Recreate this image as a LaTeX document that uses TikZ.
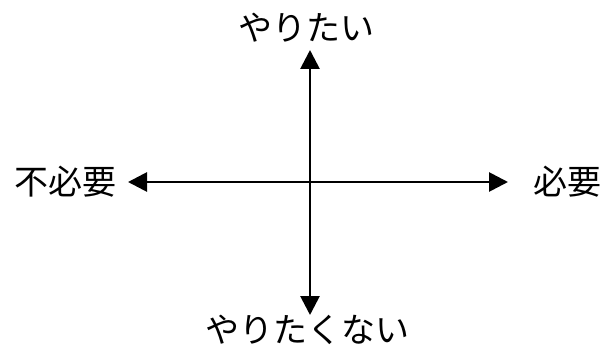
\documentclass[tikz,border=0pt]{standalone}
\usepackage{fontspec}
\newfontfamily\jpfont{Noto Sans CJK JP}
\usetikzlibrary{arrows.meta}
\tikzset{
  axis/.style={line width=2.8pt, {Triangle[length=19pt,width=19pt]}-{Triangle[length=19pt,width=19pt]}},
  lbl/.style={font=\jpfont\fontsize{34pt}{36pt}\selectfont, inner sep=0pt, anchor=center}
}
\begin{document}
\begin{tikzpicture}[x=1pt,y=1pt]
\useasboundingbox (0,0) rectangle (611,349);
\coordinate (top) at (310,299);
\coordinate (bot) at (310,34);
\coordinate (lft) at (128,167);
\coordinate (rgt) at (508,167);
\node[lbl] (want) at (306,321) {やりたい};
\node[lbl] (notwant) at (307,19) {やりたくない};
\node[lbl] (unneeded) at (66,167) {不必要};
\node[lbl] (needed) at (567,167) {必要};
\draw[axis] (top) -- (bot);
\draw[axis] (lft) -- (rgt);
\end{tikzpicture}
\end{document}
